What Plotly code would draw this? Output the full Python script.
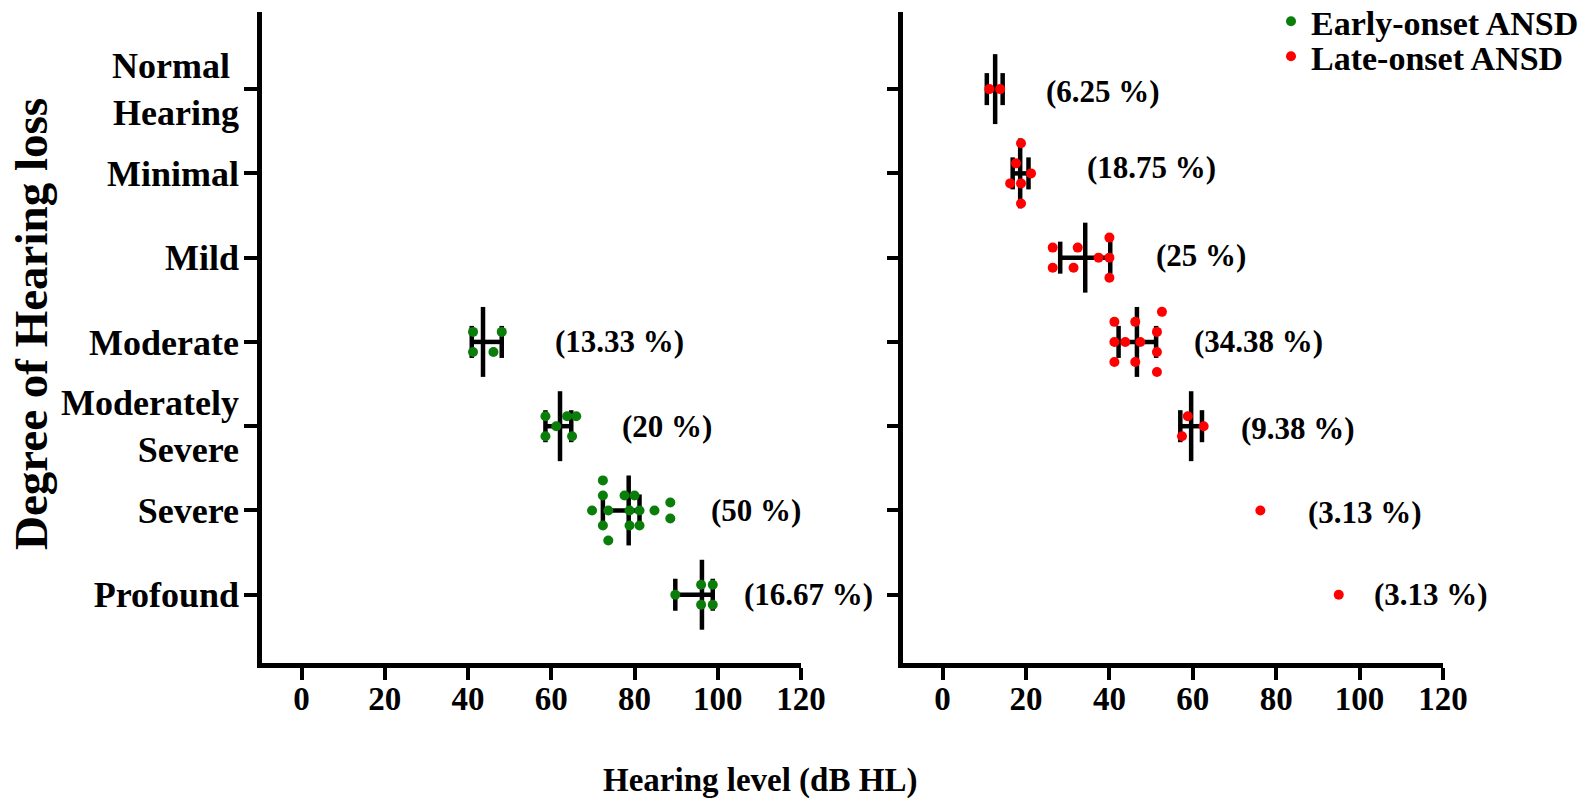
import plotly.graph_objects as go

# ---------------- data ----------------
categories = ["Profound", "Severe", "Moderately<br>Severe", "Moderate",
              "Mild", "Minimal", "Normal\u00a0<br>Hearing"]  # y index 0..6

# Early-onset ANSD (left panel)
early_cat = [3, 3, 3, 3,
             2, 2, 2, 2, 2, 2,
             1, 1, 1, 1, 1, 1, 1, 1, 1, 1, 1, 1, 1, 1, 1,
             0, 0, 0, 0, 0]
early_val = [41.2, 48.1, 41.2, 46.1,
             58.6, 63.8, 66.0, 61.2, 58.6, 65.0,
             72.4, 72.4, 77.6, 80.0, 69.8, 73.7, 78.8, 81.2, 84.8, 88.6, 72.4, 78.8, 81.2, 88.6, 73.7,
             89.8, 96.0, 98.8, 96.0, 98.8]
early_slot = [1, 1, -1, -1,
              1, 1, 1, 0, -1, -1,
              3, 1.5, 1.5, 1.5, 0, 0, 0, 0, 0, 0.8, -1.5, -1.5, -1.5, -0.8, -3,
              0, 1, 1, -1, -1]

# Late-onset ANSD (right panel)
late_cat = [6, 6,
            5, 5, 5, 5, 5, 5,
            4, 4, 4, 4, 4, 4, 4, 4,
            3, 3, 3, 3, 3, 3, 3, 3, 3, 3, 3,
            2, 2, 2,
            1,
            0]
late_val = [11.2, 13.8,
            18.8, 17.6, 21.2, 16.2, 18.8, 18.8,
            26.4, 32.4, 40.0, 37.4, 40.0, 26.4, 31.4, 40.0,
            52.6, 41.2, 46.2, 51.4, 41.2, 43.8, 47.4, 51.4, 41.2, 46.2, 51.4,
            58.8, 62.6, 57.4,
            76.2,
            95.0]
late_slot = [0, 0,
             3, 1, 0, -1, -1, -3,
             1, 1, 2, 0, 0, -1, -1, -2,
             3, 2, 2, 1, 0, 0, 0, -1, -2, -2, -3,
             1, 0, -1,
             0,
             0]

# summary lines (median and interquartile range)
early_sum_cat = [3, 2, 1, 0]
early_mid = [43.6, 62.1, 78.6, 96.2]
early_low = [40.9, 58.6, 72.4, 89.8]
early_high = [48.1, 64.8, 81.2, 98.8]

late_sum_cat = [6, 5, 4, 3, 2]
late_mid = [12.6, 18.6, 34.2, 46.6, 59.6]
late_low = [10.6, 16.8, 28.2, 42.2, 57.0]
late_high = [14.4, 20.6, 40.2, 51.2, 62.2]

# percentage labels
early_pct_cat = [3, 2, 1, 0]
early_pct_text = ["(13.33 %)", "(20 %)", "(50 %)", "(16.67 %)"]
early_pct_x = [60.4, 76.4, 97.8, 105.8]

late_pct_cat = [6, 5, 4, 3, 2, 1, 0]
late_pct_text = ["(6.25 %)", "(18.75 %)", "(25 %)", "(34.38 %)", "(9.38 %)", "(3.13 %)", "(3.13 %)"]
late_pct_x = [24.4, 34.2, 50.8, 59.8, 71.0, 87.2, 103.0]

x_ticks = [0, 20, 40, 60, 80, 100, 120]

# ---------------- styling ----------------
W, H = 1585, 808
FONT = "Liberation Serif"
SLOT = 0.119          # swarm spacing in category units
CAP = 0.19            # half height of IQR caps
MED = 0.415           # half height of median line
GREEN = "#0a7d0a"
RED = "#ff0000"
late_pct_shift = [-2, 6, 2, 0, -2, -2, 0]   # small vertical nudges (px) of the labels


def summary_xy(cats, mid, low, high):
    xs, ys = [], []
    for c, m, lo, hi in zip(cats, mid, low, high):
        xs += [lo, hi, None, lo, lo, None, hi, hi, None, m, m, None]
        ys += [c, c, None, c - CAP, c + CAP, None, c - CAP, c + CAP, None, c - MED, c + MED, None]
    return xs, ys


fig = go.Figure()

ex, ey = summary_xy(early_sum_cat, early_mid, early_low, early_high)
fig.add_trace(go.Scatter(x=ex, y=ey, mode="lines", line=dict(color="black", width=4.5),
                         showlegend=False, hoverinfo="skip", xaxis="x", yaxis="y"))
lx, ly = summary_xy(late_sum_cat, late_mid, late_low, late_high)
fig.add_trace(go.Scatter(x=lx, y=ly, mode="lines", line=dict(color="black", width=4.5),
                         showlegend=False, hoverinfo="skip", xaxis="x2", yaxis="y2"))

fig.add_trace(go.Scatter(x=early_val, y=[c + s * SLOT for c, s in zip(early_cat, early_slot)],
                         mode="markers", marker=dict(color=GREEN, size=10),
                         name="Early-onset ANSD", xaxis="x", yaxis="y", legend="legend"))
fig.add_trace(go.Scatter(x=late_val, y=[c + s * SLOT for c, s in zip(late_cat, late_slot)],
                         mode="markers", marker=dict(color=RED, size=10),
                         name="Late-onset ANSD", xaxis="x2", yaxis="y2", legend="legend2"))

bold = lambda s: dict(family=FONT, size=s, color="black", weight="bold")

annotations = []
for c, t, x in zip(early_pct_cat, early_pct_text, early_pct_x):
    annotations.append(dict(x=x, y=c, xref="x", yref="y", text=t, showarrow=False,
                            xanchor="left", yanchor="middle", font=bold(31)))
for c, t, x, s in zip(late_pct_cat, late_pct_text, late_pct_x, late_pct_shift):
    annotations.append(dict(x=x, y=c, xref="x2", yref="y2", text=t, showarrow=False,
                            xanchor="left", yanchor="middle", yshift=s, font=bold(31)))
annotations.append(dict(x=760 / W, y=1 - 780 / H, xref="paper", yref="paper",
                        text="Hearing level (dB HL)", showarrow=False,
                        xanchor="center", yanchor="middle", font=bold(33)))
annotations.append(dict(x=31 / W, y=1 - 324 / H, xref="paper", yref="paper",
                        text="Degree of Hearing loss", showarrow=False, textangle=-90,
                        xanchor="center", yanchor="middle", font=bold(47)))

ydom = [1 - 663 / H, 1 - 12 / H]
yrange = [-0.81, 6.915]
xrange = [-9.5, 120]

common_x = dict(range=xrange, tickvals=x_ticks, ticks="outside", ticklen=12, tickwidth=4,
                tickcolor="black", showline=True, linewidth=4.5, linecolor="black",
                showgrid=False, zeroline=False, tickfont=bold(33), ticklabelstandoff=-9,
                automargin=False, fixedrange=True)
common_y = dict(range=yrange, domain=ydom, tickvals=list(range(len(categories))),
                ticks="outside", tickwidth=4, tickcolor="black", showline=True,
                linewidth=4.5, linecolor="black", showgrid=False, zeroline=False,
                automargin=False, fixedrange=True)

leg = dict(xanchor="left", yanchor="top", font=bold(34),
           bgcolor="rgba(0,0,0,0)", borderwidth=0)

fig.update_layout(
    width=W, height=H,
    margin=dict(l=0, r=0, t=0, b=0, autoexpand=False),
    paper_bgcolor="white", plot_bgcolor="white",
    xaxis=dict(domain=[262 / W, 801 / W], anchor="y", **common_x),
    xaxis2=dict(domain=[903 / W, 1443 / W], anchor="y2", **common_x),
    yaxis=dict(anchor="x", ticktext=categories, ticklen=13, tickfont=bold(36),
               ticklabelstandoff=-2, **common_y),
    yaxis2=dict(anchor="x2", showticklabels=False, ticklen=11, **common_y),
    showlegend=True,
    legend=dict(x=1271 / W, y=1.009, **leg),
    legend2=dict(x=1271 / W, y=1.009 - 35 / H, **leg),
    annotations=annotations,
)

fig.write_html("out.html")
